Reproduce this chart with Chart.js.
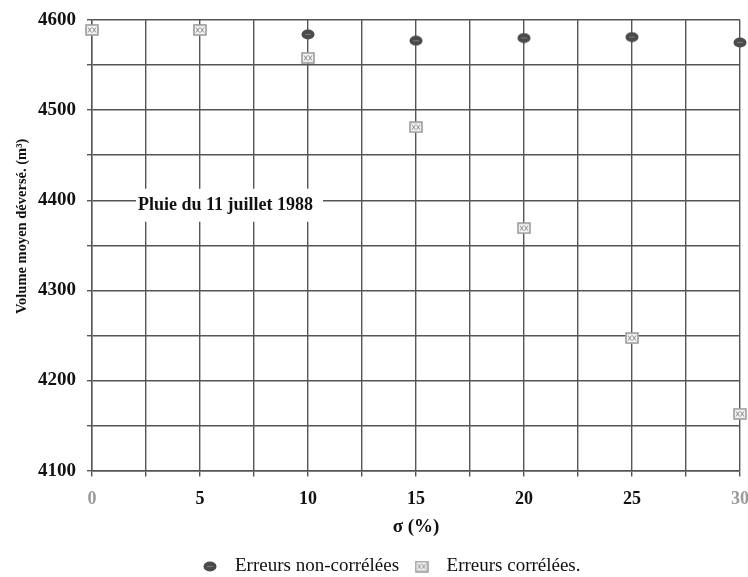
<!DOCTYPE html>
<html>
<head>
<meta charset="utf-8">
<script src="https://cdn.jsdelivr.net/npm/chart.js@4.4.0/dist/chart.umd.min.js"></script>
<style>
  html, body { margin: 0; padding: 0; background: #fff; }
  #wrap { width: 748px; height: 577px; }
</style>
</head>
<body>
<div id="wrap"><canvas id="chart" width="748" height="577"></canvas></div>
<script>
// sigma (%) values
const sigmaValues = [0, 5, 10, 15, 20, 25, 30];
// Volume moyen déversé (m3)
const uncorrelated = [4589, 4589, 4584, 4577, 4580, 4581, 4575];
const correlated = [4589, 4589, 4558, 4481, 4369, 4247, 4163];
const xTicks = [0, 5, 10, 15, 20, 25, 30];
const yTicks = [4100, 4200, 4300, 4400, 4500, 4600];
const noteText = 'Pluie du 11 juillet 1988';
const yTitle = 'Volume moyen déversé. (m³)';

const FONT = '"Liberation Serif", "Times New Roman", serif';

// marker for non-correlated errors: dark filled ellipse
function makeDot() {
    const c = document.createElement('canvas');
    c.width = 14; c.height = 11;
    const g = c.getContext('2d');
    g.fillStyle = '#4a4a4a';
    g.beginPath();
    g.ellipse(7, 5.5, 6.5, 5, 0, 0, Math.PI * 2);
    g.fill();
    g.strokeStyle = '#7a7a7a';
    g.lineWidth = 1;
    g.beginPath();
    g.moveTo(4, 5.5); g.lineTo(10, 5.5);
    g.stroke();
    return c;
}

// marker for correlated errors: light square with crossed pattern
function makeBox() {
    const c = document.createElement('canvas');
    c.width = 14; c.height = 12;
    const g = c.getContext('2d');
    g.fillStyle = '#f4f4f4';
    g.fillRect(0.5, 0.5, 13, 11);
    g.strokeStyle = '#8a8a8a';
    g.lineWidth = 1.3;
    g.strokeRect(1, 1, 12, 10);
    g.lineWidth = 1;
    g.beginPath();
    g.moveTo(3, 3.5); g.lineTo(6.5, 8.5); g.moveTo(6.5, 3.5); g.lineTo(3, 8.5);
    g.moveTo(7.5, 3.5); g.lineTo(11, 8.5); g.moveTo(11, 3.5); g.lineTo(7.5, 8.5);
    g.stroke();
    return c;
}

const dotImg = makeDot();
const boxImg = makeBox();

// text label inside the plot (white box behind it) and the rotated y title
const notePlugin = {
    id: 'note',
    beforeDatasetsDraw(chart) {
        const ctx = chart.ctx;
        const x = chart.scales.x.getPixelForValue(2.13);
        const y = chart.scales.y.getPixelForValue(4395);
        ctx.save();
        ctx.font = 'bold 18px ' + FONT;
        const w = ctx.measureText(noteText).width;
        ctx.fillStyle = '#fff';
        ctx.fillRect(x - 2, y - 16, w + 12, 33);
        ctx.fillStyle = '#111';
        ctx.textBaseline = 'middle';
        ctx.fillText(noteText, x, y + 1);
        ctx.restore();
    },
    afterDraw(chart) {
        const ctx = chart.ctx;
        ctx.save();
        ctx.translate(22, chart.scales.y.getPixelForValue(4371));
        ctx.rotate(-Math.PI / 2);
        ctx.font = 'bold 14.5px ' + FONT;
        ctx.fillStyle = '#111';
        ctx.textAlign = 'center';
        ctx.textBaseline = 'middle';
        ctx.fillText(yTitle, 0, 0);
        ctx.restore();
    }
};

new Chart(document.getElementById('chart'), {
    type: 'scatter',
    data: {
        datasets: [{
            label: 'Erreurs non-corrélées',
            data: sigmaValues.map((s, i) => ({ x: s, y: uncorrelated[i] })),
            pointStyle: dotImg,
            pointRadius: 6,
            order: 1
        }, {
            label: 'Erreurs corrélées.',
            data: sigmaValues.map((s, i) => ({ x: s, y: correlated[i] })),
            pointStyle: boxImg,
            pointRadius: 6,
            order: 0
        }]
    },
    options: {
        responsive: false,
        animation: false,
        clip: false,
        layout: { padding: { top: 7, right: 0, left: 27, bottom: -9 } },
        plugins: {
            tooltip: { enabled: false },
            legend: {
                position: 'bottom',
                labels: {
                    usePointStyle: true,
                    pointStyleWidth: 31,
                    color: '#111',
                    font: { family: FONT, size: 19 },
                    padding: 7,
                    sort: (a, b) => a.datasetIndex - b.datasetIndex
                }
            }
        },
        scales: {
            x: {
                type: 'linear',
                min: 0,
                max: 30,
                afterBuildTicks: axis => {
                    axis.ticks = [];
                    for (let v = 0; v <= 30; v += 2.5) axis.ticks.push({ value: v });
                },
                afterFit: axis => { axis.paddingRight = 8; },
                ticks: {
                    color: ctx => (ctx.tick.value === 0 || ctx.tick.value === 30) ? '#9a9a9a' : '#111',
                    font: { family: FONT, size: 18, weight: 'bold' },
                    padding: 12,
                    maxRotation: 0,
                    autoSkip: false,
                    callback: v => xTicks.includes(v) ? String(v) : ''
                },
                grid: { color: '#555', lineWidth: 1.4, tickLength: 6 },
                border: { color: '#555', width: 1.4 },
                title: {
                    display: true,
                    text: 'σ (%)',
                    color: '#111',
                    font: { family: FONT, size: 19, weight: 'bold' },
                    padding: { top: -7, bottom: 12 }
                }
            },
            y: {
                min: 4100,
                max: 4600,
                afterBuildTicks: axis => {
                    axis.ticks = [];
                    for (let v = 4100; v <= 4600; v += 50) axis.ticks.push({ value: v });
                },
                afterFit: axis => { axis.paddingTop = 20; },
                ticks: {
                    color: '#111',
                    font: { family: FONT, size: 19, weight: 'bold' },
                    padding: 11,
                    autoSkip: false,
                    callback: v => yTicks.includes(v) ? String(v) : ''
                },
                grid: { color: '#555', lineWidth: 1.4, tickLength: 5 },
                border: { color: '#555', width: 1.4 }
            }
        }
    },
    plugins: [notePlugin]
});
</script>
</body>
</html>
